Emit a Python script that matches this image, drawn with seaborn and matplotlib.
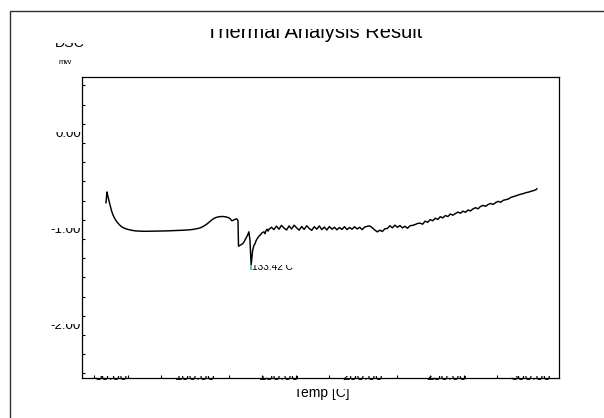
import numpy as np
import matplotlib
matplotlib.use("Agg")
import matplotlib.pyplot as plt
import matplotlib.transforms as mtransforms
from matplotlib.patches import Rectangle
import seaborn as sns

# DSC trace: temperature [C] and heat flow [mW]
temp = [
    47.0, 47.6, 48.2, 49.4, 50.3, 51.2, 52.4, 53.6, 55.0, 56.5, 58.2, 60.1,
    62.2, 64.3, 67.0, 70.2, 75.0, 79.2, 84.0, 88.1, 92.5, 97.0, 100.0, 103.0,
    105.2, 107.1, 108.6, 110.1, 111.3, 112.5, 114.0, 115.5, 117.0, 118.5,
    119.7, 120.8, 121.4, 122.0, 122.6, 123.2, 124.0, 124.7, 125.3, 125.6,
    125.9, 126.6, 127.4, 128.3, 129.2, 129.8, 130.4, 131.3, 132.1, 132.7,
    133.42, 134.3, 135.0, 135.7, 136.3, 136.9, 137.5, 138.1, 138.7, 139.3,
    139.9, 140.5, 141.1, 141.7, 142.3, 142.9, 143.5, 144.0,
    145.5, 147.0, 148.5, 150.0, 151.5, 153.0, 154.5, 156.0, 157.5, 159.0,
    160.5, 162.0, 163.5, 165.0, 166.5, 168.0, 169.5, 171.0, 172.5, 174.0,
    175.5, 177.0, 178.5, 180.0, 181.5, 183.0, 184.5, 186.0, 187.5, 189.0,
    190.5, 192.0, 193.5, 195.0, 196.5, 198.0, 199.5, 201.0, 202.5, 204.0,
    205.5, 207.0, 208.5, 210.0, 211.5, 213.0, 214.5, 216.0, 217.5, 219.0,
    220.5, 222.0, 223.5, 225.0, 226.5, 228.0, 229.5,
    231.0, 232.5, 234.0, 235.5, 237.0, 238.5, 240.0, 241.5, 243.0, 244.5,
    246.0, 247.5, 249.0, 250.5, 252.0, 253.5, 255.0, 256.5, 258.0, 259.5,
    261.0, 262.5, 264.0, 265.5, 267.0, 268.5, 270.0, 271.5, 273.0, 274.5,
    276.0, 277.5, 279.0, 280.5, 282.0, 283.5, 285.0, 286.5, 288.0, 289.5,
    291.0, 292.5, 294.0, 295.5, 297.0, 298.5, 300.0, 301.5, 303.0, 303.6,
]
dsc = [
    -0.625, -0.51, -0.56, -0.645, -0.705, -0.75, -0.792, -0.823, -0.852, -0.875, -0.89, -0.90,
    -0.909, -0.915, -0.918, -0.92, -0.919, -0.917, -0.915, -0.912, -0.909, -0.904, -0.897, -0.885,
    -0.866, -0.844, -0.822, -0.80, -0.786, -0.776, -0.769, -0.766, -0.766, -0.77,
    -0.777, -0.786, -0.80, -0.81, -0.806, -0.80, -0.795, -0.79, -0.80, -0.81,
    -1.075, -1.068, -1.06, -1.05, -1.03, -1.01, -0.99, -0.96, -0.925, -1.01,
    -1.27, -1.12, -1.07, -1.05, -1.02, -1.00, -0.985, -0.97, -0.96, -0.95,
    -0.935, -0.93, -0.925, -0.945, -0.912, -0.898, -0.918, -0.900,
    -0.878, -0.902, -0.866, -0.898, -0.858, -0.886, -0.906, -0.864, -0.896, -0.856,
    -0.884, -0.908, -0.870, -0.900, -0.862, -0.890, -0.910, -0.872, -0.898, -0.864,
    -0.902, -0.876, -0.906, -0.870, -0.898, -0.878, -0.904, -0.880, -0.900, -0.872,
    -0.902, -0.880, -0.898, -0.872, -0.896, -0.878, -0.902, -0.876, -0.868, -0.864,
    -0.882, -0.906, -0.926, -0.908, -0.922, -0.894, -0.890, -0.862, -0.884, -0.856,
    -0.878, -0.860, -0.884, -0.868, -0.888, -0.862, -0.858,
    -0.850, -0.838, -0.835, -0.846, -0.814, -0.826, -0.798, -0.810, -0.784, -0.796,
    -0.768, -0.780, -0.756, -0.766, -0.740, -0.752, -0.735, -0.720, -0.732, -0.710,
    -0.722, -0.698, -0.708, -0.686, -0.674, -0.686, -0.660, -0.650, -0.660, -0.640,
    -0.630, -0.640, -0.620, -0.608, -0.617, -0.597, -0.590, -0.584, -0.567, -0.559,
    -0.551, -0.541, -0.533, -0.527, -0.517, -0.512, -0.503, -0.496, -0.486, -0.475,
]

peak_temp = 133.42
peak_label = "133.42 C"

x_label_vals = [50, 100, 150, 200, 250, 300]
x_label_text = ["50.00", "100.00", "150.00", "200.00", "250.00", "300.00"]
y_label_vals = [-2.0, -1.0, 0.0]
y_label_text = ["-2.00", "-1.00", "0.00"]

W, H = 604, 418

sns.set_theme(style="white")
plt.rcParams["font.family"] = ["Liberation Sans", "DejaVu Sans"]

fig = plt.figure(figsize=(W / 100, H / 100), dpi=100)
fig.patch.set_facecolor("white")


def fx(px):
    return px / W


def fy(py):
    return 1 - py / H


def clip_below(artist, top_img_y):
    """Show only the part of a text that lies below an image row."""
    artist.set_clip_box(mtransforms.Bbox.from_extents(0, -50, W, H - top_img_y))
    artist.set_clip_on(True)


# outer frame
fig.patches.append(Rectangle((fx(10), fy(11)), 2, -2, transform=fig.transFigure,
                             fill=False, edgecolor="#303030", linewidth=1.0,
                             clip_on=False))

ax = fig.add_axes([fx(82), fy(378), fx(559) - fx(82), fy(77) - fy(378)])
ax.set_facecolor("white")

sns.lineplot(x=temp, y=dsc, ax=ax, color="black", linewidth=1.05,
             sort=False, estimator=None)

ax.set_xlim(32.74, 316.67)
ax.set_ylim(-2.448, 0.6875)

for s in ax.spines.values():
    s.set_color("black")
    s.set_linewidth(0.9)

# ticks
ax.set_xticks(x_label_vals)
ax.set_xticklabels(x_label_text)
ax.set_xticks(np.arange(40, 301, 20), minor=True)
ax.set_yticks(y_label_vals)
ax.set_yticklabels(y_label_text)
ax.set_yticks(np.arange(-2.4, 0.61, 0.2), minor=True)
ax.tick_params(which="both", direction="in", bottom=True, left=True,
               top=False, right=False, color="black", width=0.8,
               labelsize=9.5, labelcolor="black")
ax.tick_params(axis="x", which="major", length=0, pad=1.44)
ax.tick_params(axis="x", which="minor", length=2.2)
ax.tick_params(axis="y", which="both", length=2.2)
ax.tick_params(axis="y", which="major", pad=0.72)

# peak marker and label
imin = dsc.index(min(dsc))
ax.plot([temp[imin]], [dsc[imin]], marker=3, markersize=3.6,
        markeredgewidth=1.3, color="#40c8c8", linestyle="none")
ann = ax.annotate(peak_label, xy=(peak_temp, dsc[imin]), xytext=(0.5, -5),
                  textcoords="offset pixels", ha="left", va="baseline",
                  fontsize=7.2, color="black")

ax.set_xlabel("Temp [C]", fontsize=10, color="black")
ax.xaxis.set_label_coords((321.5 - 82) / 477, (378 - 397) / 301)
ax.xaxis.label.set_va("baseline")

title = fig.text(fx(314), fy(38.5), "Thermal Analysis Result", ha="center",
                 va="baseline", fontsize=14.5, color="black")
dsc_lbl = fig.text(fx(55), fy(47), "DSC", ha="left", va="baseline",
                   fontsize=10.2, color="black")
mw_lbl = fig.text(fx(59), fy(63.5), "mW", ha="left", va="baseline",
                  fontsize=5.5, color="black")

fig.canvas.draw()

for lab in ax.get_xticklabels():
    lab.set_va("baseline")
    clip_below(lab, 376)

for lab in ax.get_yticklabels():
    lab.set_va("baseline")
    lab.set_transform(lab.get_transform() + mtransforms.Affine2D().translate(0, 5.5))
    yd = ax.transData.transform((0, float(lab.get_position()[1])))[1]
    lab.set_clip_box(mtransforms.Bbox.from_extents(0, yd, 90, yd + 10.5))
    lab.set_clip_on(True)

clip_below(title, 28.5)
clip_below(dsc_lbl, 42.7)
clip_below(mw_lbl, 60)
clip_below(ax.xaxis.label, 388.5)
ymin_disp = ax.transData.transform((peak_temp, dsc[imin]))[1]
ann.set_clip_box(mtransforms.Bbox.from_extents(0, -50, W, ymin_disp - 0.5))
ann.set_clip_on(True)

fig.savefig("out.png", dpi=100, facecolor="white")
